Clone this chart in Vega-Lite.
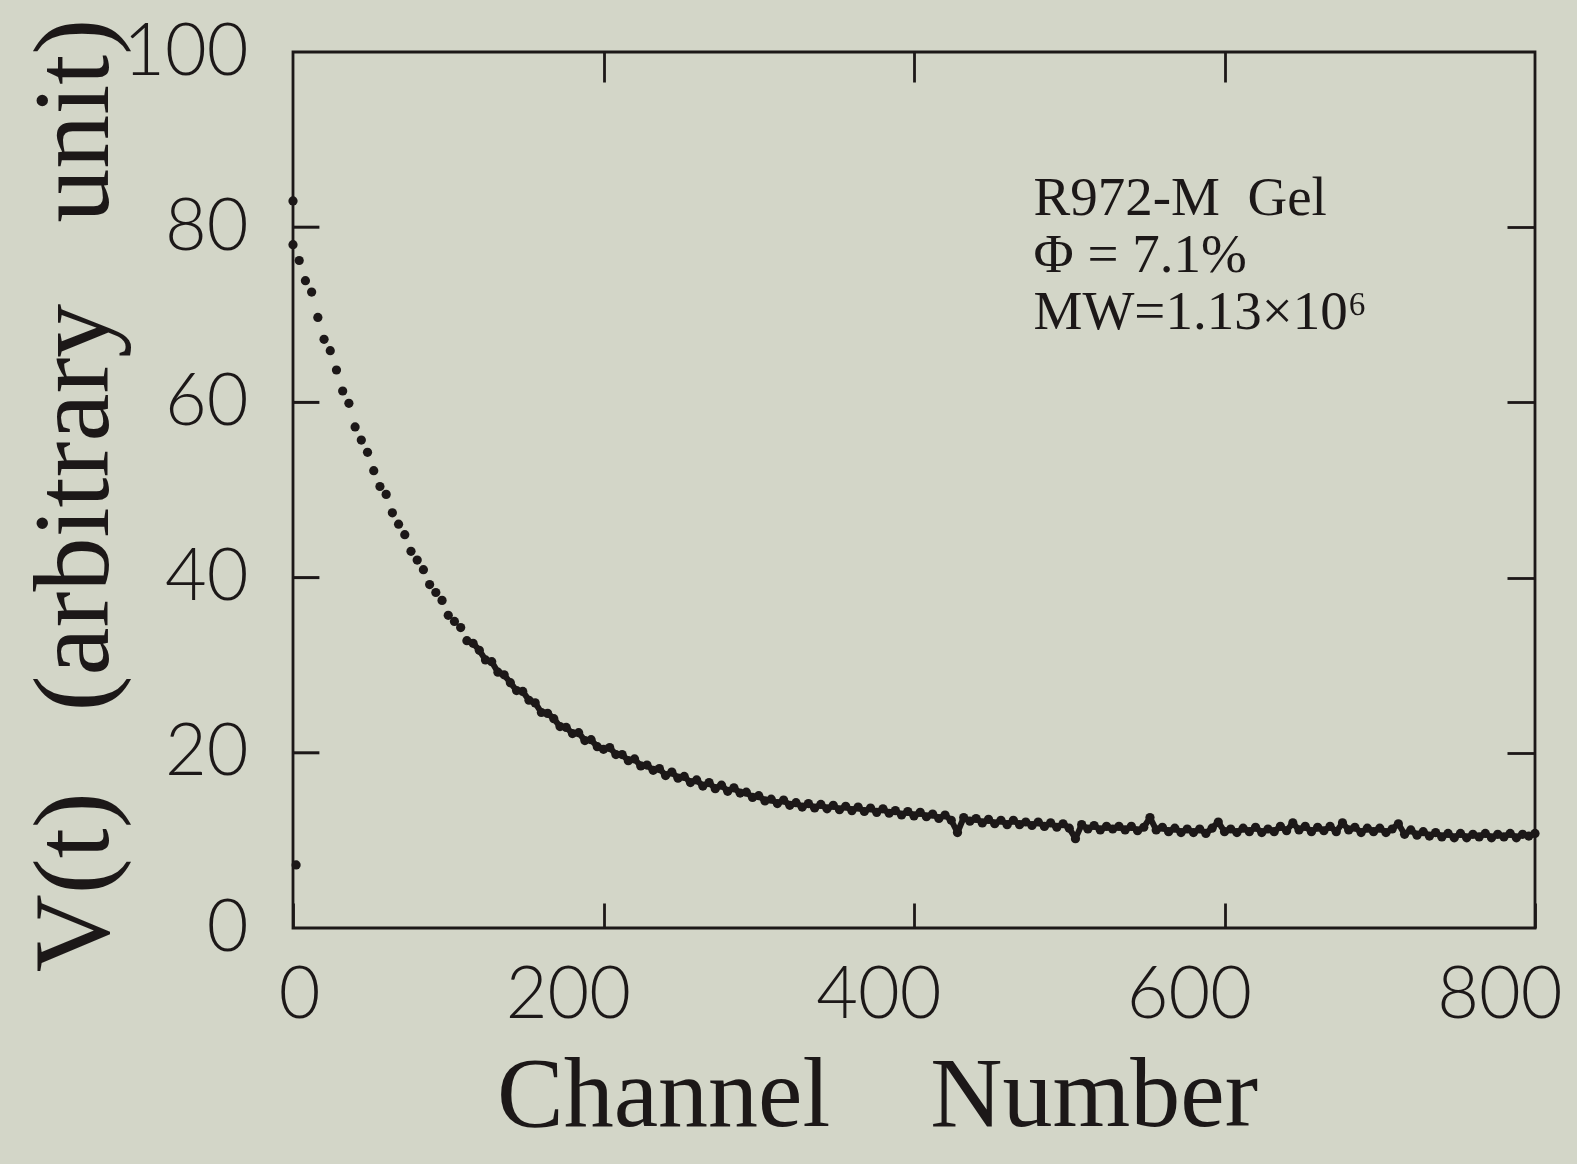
{
  "$schema": "https://vega.github.io/schema/vega-lite/v6.json",
  "autosize": "none",
  "width": 1242,
  "height": 876,
  "padding": {"left": 293, "top": 52, "right": 42, "bottom": 236},
  "background": "#d3d6c8",
  "config": {
    "view": {"stroke": "#1c1818", "strokeWidth": 2.8, "fill": null},
    "axis": {
      "domain": false,
      "grid": false,
      "ticks": true,
      "zindex": 1,
      "tickColor": "#1c1818",
      "tickWidth": 2.8,
      "labelFont": "Lato",
      "labelFontWeight": 300,
      "labelFontSize": 72,
      "labelColor": "#1c1818",
      "titleFont": "Liberation Serif",
      "titleFontWeight": "normal",
      "titleColor": "#1c1818"
    }
  },
  "datasets": {
    "decay": [
      {"c": 0, "v": 78.0}, {"c": 4, "v": 76.2}, {"c": 8, "v": 73.9}, {"c": 12, "v": 72.6},
      {"c": 16, "v": 69.7}, {"c": 20, "v": 67.2}, {"c": 24, "v": 65.9}, {"c": 28, "v": 63.7},
      {"c": 32, "v": 61.3}, {"c": 36, "v": 59.9}, {"c": 40, "v": 57.2}, {"c": 44, "v": 55.7},
      {"c": 48, "v": 54.3}, {"c": 52, "v": 52.2}, {"c": 56, "v": 50.4}, {"c": 60, "v": 49.5},
      {"c": 64, "v": 47.4}, {"c": 68, "v": 46.1}, {"c": 72, "v": 44.9}, {"c": 76, "v": 43.0},
      {"c": 80, "v": 42.0}, {"c": 84, "v": 40.9}, {"c": 88, "v": 39.2}, {"c": 92, "v": 38.3},
      {"c": 96, "v": 37.4}, {"c": 100, "v": 35.7}, {"c": 104, "v": 35.0}, {"c": 108, "v": 34.3},
      {"c": 112, "v": 32.8}, {"c": 116, "v": 32.5}, {"c": 120, "v": 31.7}, {"c": 124, "v": 30.6},
      {"c": 128, "v": 30.4}, {"c": 132, "v": 29.2}, {"c": 136, "v": 28.9}, {"c": 140, "v": 28.0},
      {"c": 144, "v": 27.1}, {"c": 148, "v": 27.0}, {"c": 152, "v": 26.0}, {"c": 156, "v": 25.7},
      {"c": 160, "v": 24.6}, {"c": 164, "v": 24.5}, {"c": 168, "v": 23.9}, {"c": 172, "v": 23.0},
      {"c": 176, "v": 22.9}, {"c": 180, "v": 22.2}, {"c": 184, "v": 22.3}, {"c": 188, "v": 21.4},
      {"c": 192, "v": 21.5}, {"c": 196, "v": 20.7}, {"c": 200, "v": 20.4}, {"c": 204, "v": 20.6},
      {"c": 208, "v": 19.8}, {"c": 212, "v": 19.8}, {"c": 216, "v": 19.1}, {"c": 220, "v": 19.3},
      {"c": 224, "v": 18.5}, {"c": 228, "v": 18.6}, {"c": 232, "v": 18.0}, {"c": 236, "v": 18.2},
      {"c": 240, "v": 17.4}, {"c": 244, "v": 17.8}, {"c": 248, "v": 17.1}, {"c": 252, "v": 17.3},
      {"c": 256, "v": 16.6}, {"c": 260, "v": 16.9}, {"c": 264, "v": 16.2}, {"c": 268, "v": 16.6},
      {"c": 272, "v": 15.9}, {"c": 276, "v": 16.3}, {"c": 280, "v": 15.6}, {"c": 284, "v": 16.0},
      {"c": 288, "v": 15.4}, {"c": 292, "v": 15.5}, {"c": 296, "v": 14.9}, {"c": 300, "v": 15.1},
      {"c": 304, "v": 14.5}, {"c": 308, "v": 14.7}, {"c": 312, "v": 14.2}, {"c": 316, "v": 14.6},
      {"c": 320, "v": 14.0}, {"c": 324, "v": 14.3}, {"c": 328, "v": 13.8}, {"c": 332, "v": 14.2},
      {"c": 336, "v": 13.7}, {"c": 340, "v": 14.1}, {"c": 344, "v": 13.6}, {"c": 348, "v": 14.0},
      {"c": 352, "v": 13.5}, {"c": 356, "v": 13.9}, {"c": 360, "v": 13.4}, {"c": 364, "v": 13.8},
      {"c": 368, "v": 13.3}, {"c": 372, "v": 13.7}, {"c": 376, "v": 13.2}, {"c": 380, "v": 13.6},
      {"c": 384, "v": 13.1}, {"c": 388, "v": 13.4}, {"c": 392, "v": 12.9}, {"c": 396, "v": 13.3},
      {"c": 400, "v": 12.8}, {"c": 404, "v": 13.2}, {"c": 408, "v": 12.7}, {"c": 412, "v": 13.0},
      {"c": 416, "v": 12.5}, {"c": 420, "v": 12.9}, {"c": 424, "v": 12.3}, {"c": 428, "v": 10.9},
      {"c": 432, "v": 12.6}, {"c": 436, "v": 12.2}, {"c": 440, "v": 12.5}, {"c": 444, "v": 12.0},
      {"c": 448, "v": 12.4}, {"c": 452, "v": 11.9}, {"c": 456, "v": 12.3}, {"c": 460, "v": 11.8},
      {"c": 464, "v": 12.3}, {"c": 468, "v": 11.8}, {"c": 472, "v": 12.1}, {"c": 476, "v": 11.7},
      {"c": 480, "v": 12.1}, {"c": 484, "v": 11.6}, {"c": 488, "v": 12.0}, {"c": 492, "v": 11.5},
      {"c": 496, "v": 11.9}, {"c": 500, "v": 11.4}, {"c": 504, "v": 10.2}, {"c": 508, "v": 11.8},
      {"c": 512, "v": 11.3}, {"c": 516, "v": 11.7}, {"c": 520, "v": 11.2}, {"c": 524, "v": 11.6},
      {"c": 528, "v": 11.3}, {"c": 532, "v": 11.6}, {"c": 536, "v": 11.2}, {"c": 540, "v": 11.6},
      {"c": 544, "v": 11.1}, {"c": 548, "v": 11.5}, {"c": 552, "v": 12.6}, {"c": 556, "v": 11.2},
      {"c": 560, "v": 11.5}, {"c": 564, "v": 11.0}, {"c": 568, "v": 11.4}, {"c": 572, "v": 10.9},
      {"c": 576, "v": 11.3}, {"c": 580, "v": 10.9}, {"c": 584, "v": 11.3}, {"c": 588, "v": 10.8},
      {"c": 592, "v": 11.4}, {"c": 596, "v": 12.1}, {"c": 600, "v": 11.0}, {"c": 604, "v": 11.3},
      {"c": 608, "v": 10.9}, {"c": 612, "v": 11.4}, {"c": 616, "v": 11.0}, {"c": 620, "v": 11.5},
      {"c": 624, "v": 10.9}, {"c": 628, "v": 11.3}, {"c": 632, "v": 11.0}, {"c": 636, "v": 11.6},
      {"c": 640, "v": 11.1}, {"c": 644, "v": 12.0}, {"c": 648, "v": 11.2}, {"c": 652, "v": 11.6},
      {"c": 656, "v": 11.0}, {"c": 660, "v": 11.5}, {"c": 664, "v": 11.1}, {"c": 668, "v": 11.6},
      {"c": 672, "v": 11.0}, {"c": 676, "v": 12.0}, {"c": 680, "v": 11.2}, {"c": 684, "v": 11.5},
      {"c": 688, "v": 10.9}, {"c": 692, "v": 11.4}, {"c": 696, "v": 11.0}, {"c": 700, "v": 11.4},
      {"c": 704, "v": 10.9}, {"c": 708, "v": 11.3}, {"c": 712, "v": 11.9}, {"c": 716, "v": 10.7},
      {"c": 720, "v": 11.2}, {"c": 724, "v": 10.6}, {"c": 728, "v": 11.0}, {"c": 732, "v": 10.5},
      {"c": 736, "v": 10.9}, {"c": 740, "v": 10.4}, {"c": 744, "v": 10.8}, {"c": 748, "v": 10.3},
      {"c": 752, "v": 10.8}, {"c": 756, "v": 10.3}, {"c": 760, "v": 10.7}, {"c": 764, "v": 10.4},
      {"c": 768, "v": 10.8}, {"c": 772, "v": 10.3}, {"c": 776, "v": 10.7}, {"c": 780, "v": 10.4},
      {"c": 784, "v": 10.8}, {"c": 788, "v": 10.3}, {"c": 792, "v": 10.7}, {"c": 796, "v": 10.5},
      {"c": 800, "v": 10.8},
      {"c": 0, "v": 83.0}, {"c": 2, "v": 7.2}
    ],
    "leftTicks": [{"t": 20}, {"t": 40}, {"t": 60}, {"t": 80}]
  },
  "layer": [
    {
      "data": {"name": "decay"},
      "mark": {"type": "point", "filled": true, "size": 85, "opacity": 1, "color": "#1c1818"},
      "encoding": {
        "x": {
          "field": "c", "type": "quantitative",
          "scale": {"domain": [0, 800], "nice": false, "zero": false},
          "axis": {
            "orient": "bottom", "values": [0, 200, 400, 600, 800],
            "tickSize": -25, "labelPadding": 57,
            "labelBaseline": "top", "labelAlign": "right", "labelOffset": 27,
            "labelFlush": false,
            "title": "Channel\u00a0\u00a0\u00a0 Number",
            "titleFontSize": 100,
            "titleX": 584, "titleY": 197, "titleBaseline": "alphabetic"
          }
        },
        "y": {
          "field": "v", "type": "quantitative",
          "scale": {"domain": [0, 100], "nice": false, "zero": true},
          "axis": {
            "orient": "right", "values": [20, 40, 60, 80],
            "tickSize": -28, "labels": false, "title": null
          }
        }
      }
    },
    {
      "data": {"name": "decay"},
      "transform": [{"filter": "datum.c >= 110"}],
      "mark": {"type": "line", "color": "#1c1818", "strokeWidth": 6, "strokeJoin": "round", "strokeCap": "round"},
      "encoding": {
        "x": {"field": "c", "type": "quantitative", "axis": null},
        "y": {"field": "v", "type": "quantitative", "axis": null}
      }
    },
    {
      "data": {"values": [{}]},
      "mark": {
        "type": "text", "align": "left", "baseline": "alphabetic",
        "font": "Liberation Serif", "fontSize": 55, "lineHeight": 57,
        "color": "#1c1818"
      },
      "encoding": {
        "x": {
          "datum": 477, "type": "quantitative",
          "axis": {
            "orient": "top", "values": [200, 400, 600],
            "tickSize": -30, "labels": false, "title": null
          }
        },
        "y": {
          "datum": 81.4, "type": "quantitative",
          "axis": {
            "orient": "left", "values": [0, 20, 40, 60, 80, 100],
            "ticks": false, "labelPadding": 45, "labelFlush": false,
            "title": "V(t)\u00a0\u00a0 (arbitrary\u00a0\u00a0 unit)",
            "titleFontSize": 108,
            "titleX": -186, "titleY": 443, "titleAngle": -90,
            "titleAlign": "center", "titleBaseline": "alphabetic"
          }
        },
        "text": {"value": ["R972-M\u00a0\u00a0Gel", "\u03a6 = 7.1%", "MW=1.13\u00d710\u2076"]}
      }
    },
    {
      "data": {"name": "leftTicks"},
      "mark": {"type": "rule", "color": "#1c1818", "strokeWidth": 3},
      "encoding": {
        "y": {"field": "t", "type": "quantitative", "axis": null},
        "x": {"datum": 0, "type": "quantitative", "axis": null},
        "x2": {"datum": 17}
      }
    }
  ],
  "resolve": {"axis": {"x": "independent", "y": "independent"}}
}
